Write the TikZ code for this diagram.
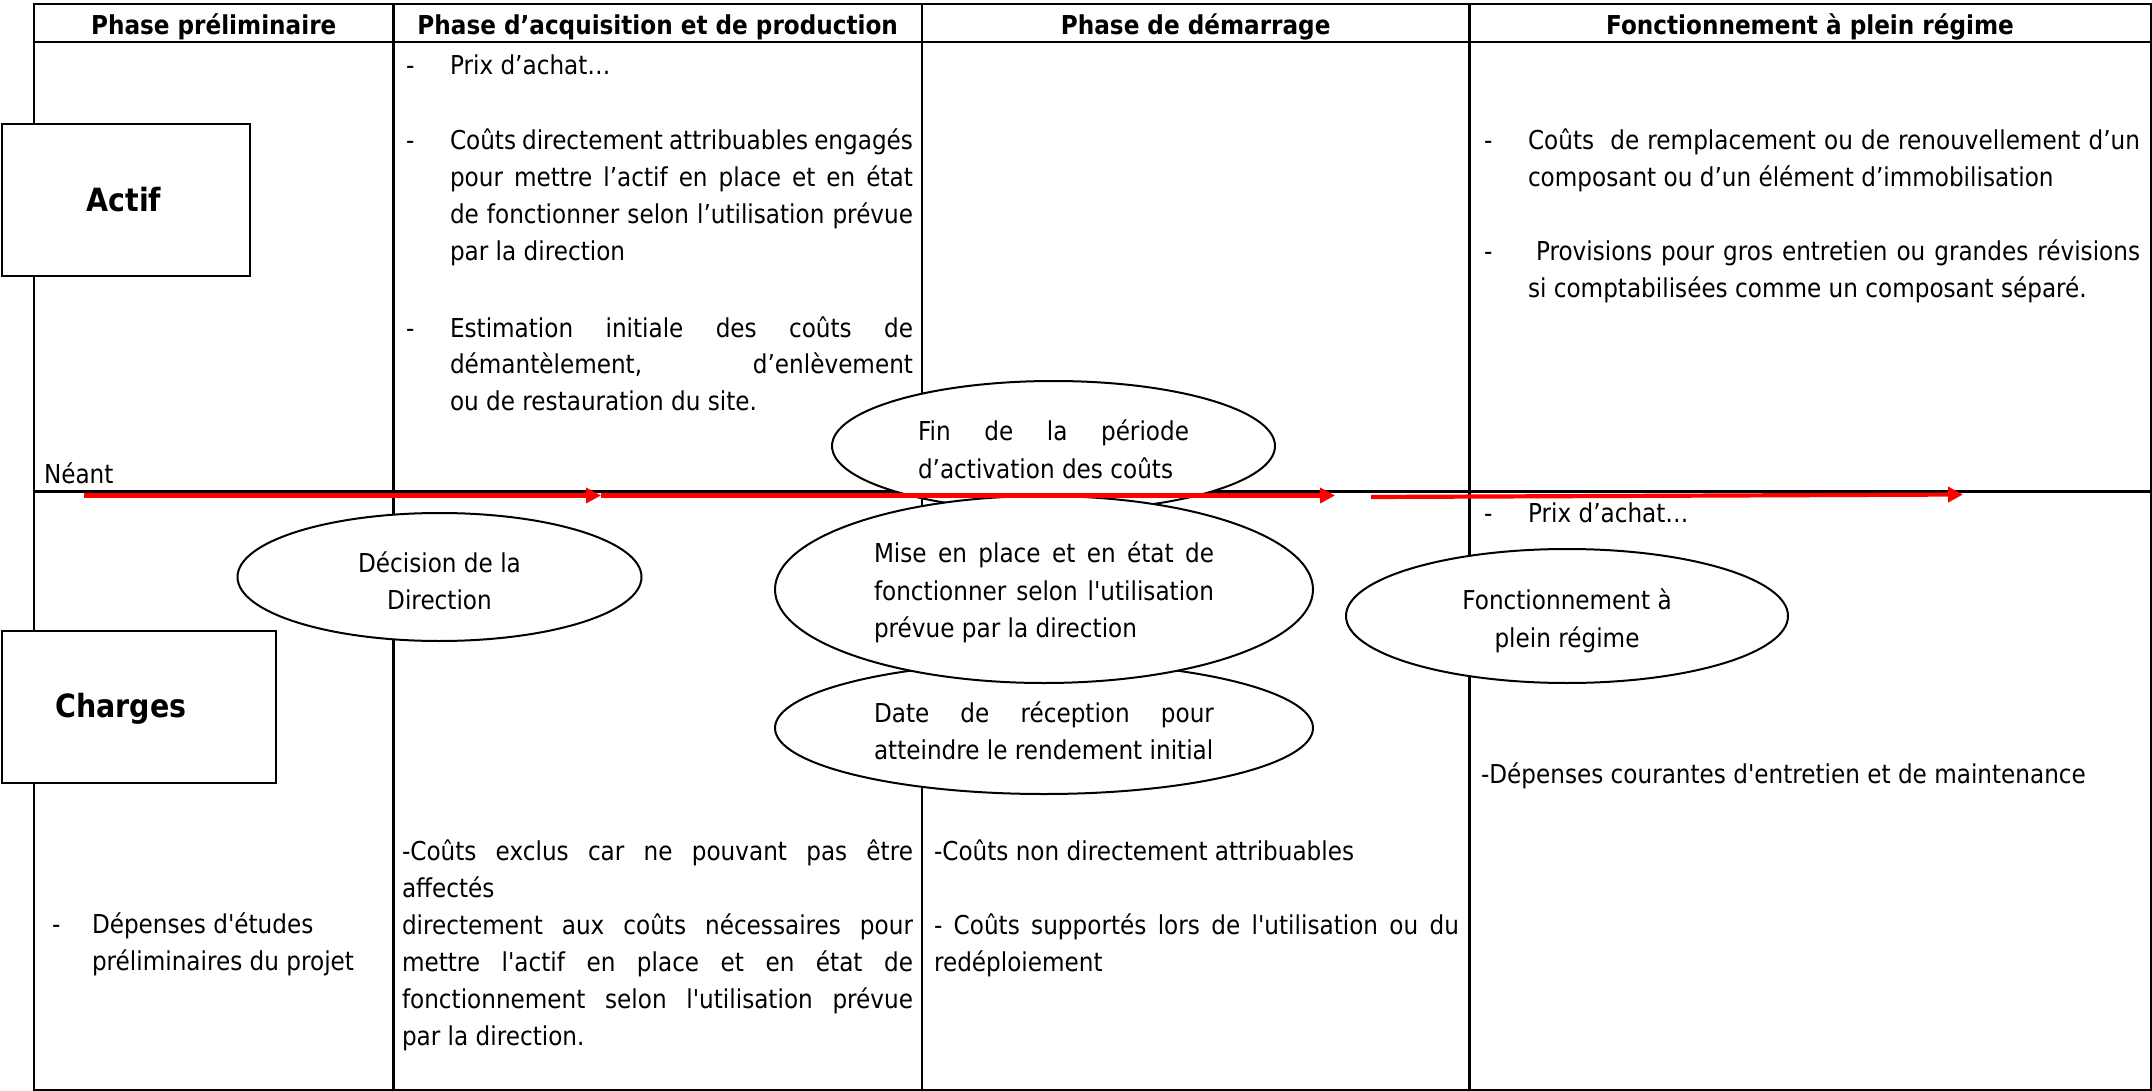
\documentclass[tikz,border=0pt]{standalone}
\usepackage{fontspec}
\newfontfamily\bodyfont{DejaVu Sans}[FakeStretch=0.89]
\usetikzlibrary{arrows.meta,shapes.geometric}
\newcommand{\jst}[2]{\makebox[#1][s]{#2}}
\begin{document}
\begin{tikzpicture}[x=0.5pt,y=-0.5pt,
  txt/.style={font=\bodyfont\fontsize{13}{18.5}\selectfont, inner sep=0pt, outer sep=0pt, anchor=base west},
  ctxt/.style={txt, anchor=base},
  hdr/.style={font=\bodyfont\bfseries\fontsize{13}{18.5}\selectfont, inner sep=0pt, anchor=base},
  lbl/.style={font=\bodyfont\bfseries\fontsize{16}{19}\selectfont, inner sep=0pt, anchor=base},
  tline/.style={line width=1.15pt, draw=black},
  ell/.style={ellipse, draw=black, fill=white, line width=1pt, inner sep=0pt},
  lbox/.style={rectangle, draw=black, fill=white, line width=1pt, inner sep=0pt, anchor=north west},
  redarrow/.style={draw=red, line width=2.1pt, -{Triangle[length=7.5pt,width=7.5pt,fill=red]}}
]
\useasboundingbox (0,0) rectangle (2152,1091);
% table grid
\coordinate (tl) at (34,4);
\coordinate (br) at (2151,1090);
\draw[tline] (tl) rectangle (br);
\draw[line width=1.4pt] (34,4) -- (2151,4);
\draw[tline] (34,42) -- (2151,42);
\draw[tline] (34,491.5) -- (2151,491.5);
\foreach \xx in {393.5,922,1469.5} \draw[tline] (\xx,4) -- (\xx,1090);

% row label boxes
\node[lbox, minimum width=124pt, minimum height=76pt] (actifbox) at (1,123) {};
\node[lbox, minimum width=136.75pt, minimum height=76pt] (chargesbox) at (1,630) {};
\node[lbl] (actif) at (124,212) {Actif};
\node[lbl] (charges) at (121,717) {Charges};

% ellipses
\node[ell, minimum width=202pt, minimum height=64pt] (dec) at (439.5,577) {};
\node[ell, minimum width=221.5pt, minimum height=65pt] (fin) at (1053.5,446) {};
\node[ell, minimum width=269pt, minimum height=66pt] (date) at (1044,728) {};
\node[ell, minimum width=269pt, minimum height=93.5pt] (mise) at (1044,589.5) {};
\node[ell, minimum width=221pt, minimum height=67pt] (fon) at (1567,616) {};

% headers
\node[hdr] (h1) at (213.7,34.5) {Phase préliminaire};
\node[hdr] (h2) at (657.7,34.5) {Phase d’acquisition et de production};
\node[hdr] (h3) at (1195.7,34.5) {Phase de démarrage};
\node[hdr] (h4) at (1810,34.5) {Fonctionnement à plein régime};

% acquisition / actif
\node[txt] (d1) at (406,75) {-};
\node[txt] (a1) at (450,75) {Prix d’achat…};
\node[txt] (d2) at (406,150) {-};
\node[txt] (a2) at (450,150) {\jst{231.5pt}{Coûts directement attribuables engagés}};
\node[txt] (a3) at (450,187) {\jst{231.5pt}{pour mettre l’actif en place et en état}};
\node[txt] (a4) at (450,224) {\jst{231.5pt}{de fonctionner selon l’utilisation prévue}};
\node[txt] (a5) at (450,261) {par la direction};
\node[txt] (d3) at (406,337) {-};
\node[txt] (a6) at (450,337) {\jst{231.5pt}{Estimation initiale des coûts de}};
\node[txt] (a7) at (450,373) {\jst{231.5pt}{démantèlement, d’enlèvement}};
\node[txt] (a8) at (450,410) {ou de restauration du site.};

% plein regime / actif
\node[txt] (d4) at (1484,150) {-};
\node[txt] (b1) at (1528,150) {\jst{306pt}{Coûts\ \ de remplacement ou de renouvellement d’un}};
\node[txt] (b2) at (1528,187) {composant ou d’un élément d’immobilisation};
\node[txt] (d5) at (1484,261) {-};
\node[txt] (b3) at (1536,261) {\jst{302pt}{Provisions pour gros entretien ou grandes révisions}};
\node[txt] (b4) at (1528,298) {si comptabilisées comme un composant séparé.};

\node[txt] (neant) at (44,483) {Néant};

% plein regime / charges
\node[txt] (d6) at (1484,522.5) {-};
\node[txt] (c1) at (1528,522.5) {Prix d’achat…};
\node[txt] (c2) at (1481,783.5) {-Dépenses courantes d'entretien et de maintenance};

% preliminaire / charges
\node[txt] (d7) at (52,933.5) {-};
\node[txt] (e1) at (92,933.5) {Dépenses d'études};
\node[txt] (e2) at (92,970.5) {préliminaires du projet};

% acquisition / charges
\node[txt] (f1) at (402,860) {\jst{255.5pt}{-Coûts exclus car ne pouvant pas être}};
\node[txt] (f2) at (402,897) {affectés};
\node[txt] (f3) at (402,934) {\jst{255.5pt}{directement aux coûts nécessaires pour}};
\node[txt] (f4) at (402,971) {\jst{255.5pt}{mettre l'actif en place et en état de}};
\node[txt] (f5) at (402,1008) {\jst{255.5pt}{fonctionnement selon l'utilisation prévue}};
\node[txt] (f6) at (402,1045) {par la direction.};

% demarrage / charges
\node[txt] (g1) at (934,860) {-Coûts non directement attribuables};
\node[txt] (g2) at (934,934) {\jst{262.5pt}{- Coûts supportés lors de l'utilisation ou du}};
\node[txt] (g3) at (934,971) {redéploiement};

% ellipse texts
\node[ctxt] (t1) at (439.5,572) {Décision de la};
\node[ctxt] (t2) at (439.5,609) {Direction};
\node[txt] (t3) at (918,440) {\jst{135.5pt}{Fin de la période}};
\node[txt] (t4) at (918,478) {d’activation des coûts};
\node[txt] (t5) at (874,562) {\jst{170pt}{Mise en place et en état de}};
\node[txt] (t6) at (874,600) {\jst{170pt}{fonctionner selon l'utilisation}};
\node[txt] (t7) at (874,637) {prévue par la direction};
\node[txt] (t8) at (874,722) {\jst{170pt}{Date de réception pour}};
\node[txt] (t9) at (874,759) {atteindre le rendement initial};
\node[ctxt] (t10) at (1567,609) {Fonctionnement à};
\node[ctxt] (t11) at (1567,647) {plein régime};

% red arrows
\coordinate (r0) at (84,495.5);
\coordinate (r1) at (601,495.5);
\coordinate (r2) at (1335,495.5);
\coordinate (r3) at (1371,497);
\coordinate (r4) at (1963,494.5);
\draw[redarrow] (r0) -- (r1);
\draw[redarrow] (r1) -- (r2);
\draw[redarrow] (r3) -- (r4);
\end{tikzpicture}
\end{document}
